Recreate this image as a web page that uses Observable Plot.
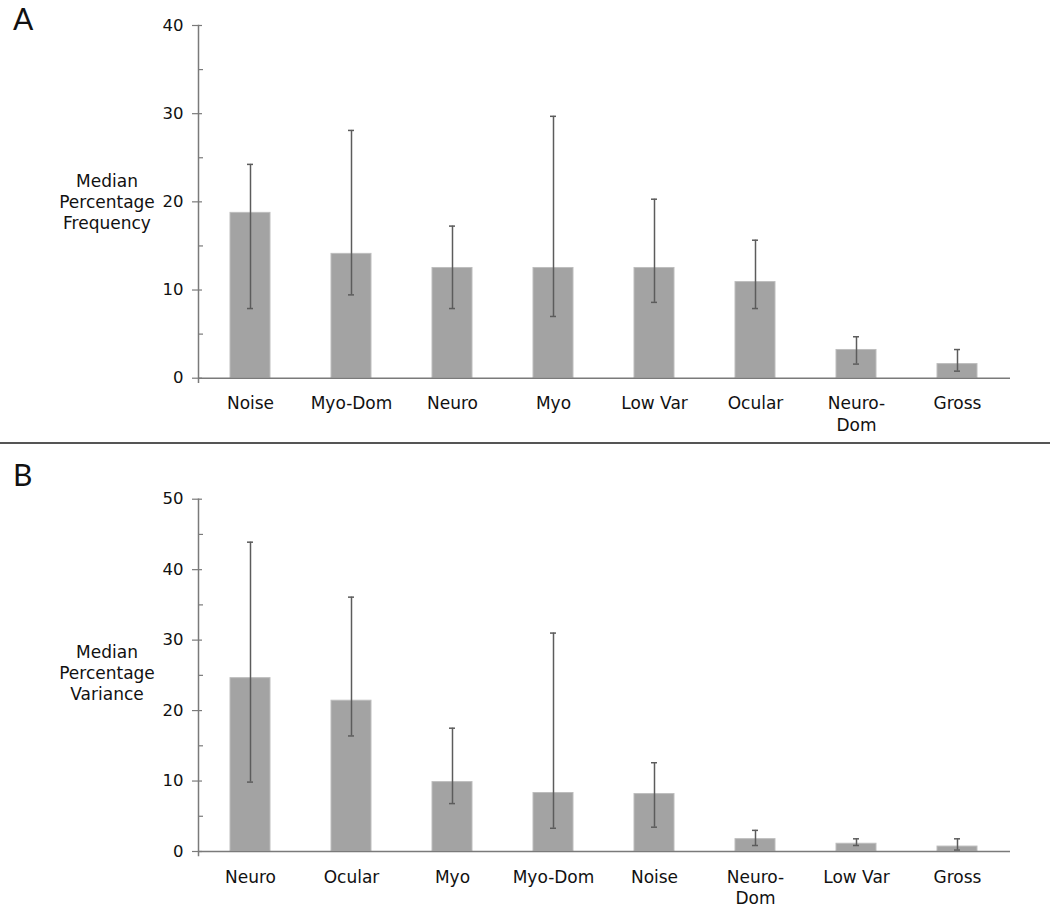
<!DOCTYPE html>
<html>
<head>
<meta charset="utf-8">
<script src="https://cdn.jsdelivr.net/npm/d3@7"></script>
<script src="https://cdn.jsdelivr.net/npm/@observablehq/plot@0.6"></script>
<style>
  html, body { margin: 0; padding: 0; background: #fff; }
  #root { position: relative; width: 1050px; font-family: "DejaVu Sans", Verdana, sans-serif; }
  .panel { position: relative; width: 1050px; }
  .letter { position: absolute; left: 13px; font-family: Lato, "Open Sans", sans-serif; font-size: 30px; line-height: 30px; color: #111; }
  .ylab { position: absolute; left: 42px; width: 130px; text-align: center; font-size: 17px; line-height: 21px; color: #111; }
  .divider { width: 1050px; height: 2px; background: #555; }
  svg { display: block; }
</style>
</head>
<body>
<div id="root">
  <div class="panel" id="panelA">
    <div class="letter" style="top:3px">A</div>
    <div class="ylab" style="top:171px">Median<br>Percentage<br>Frequency</div>
  </div>
  <div class="divider"></div>
  <div class="panel" id="panelB">
    <div class="letter" style="top:15px">B</div>
    <div class="ylab" style="top:198px">Median<br>Percentage<br>Variance</div>
  </div>
</div>
<script>
// Panel A: median percentage frequency
const catsA = ["Noise", "Myo-Dom", "Neuro", "Myo", "Low Var", "Ocular", "Neuro-Dom", "Gross"];
const medA  = [18.75, 14.1, 12.5, 12.5, 12.5, 10.9, 3.2, 1.6];
const lowA  = [7.9, 9.45, 7.9, 7.0, 8.6, 7.9, 1.6, 0.8];
const highA = [24.25, 28.1, 17.25, 29.7, 20.3, 15.65, 4.7, 3.25];
const majorA = [0, 10, 20, 30, 40];
const minorA = [5, 15, 25, 35];

// Panel B: median percentage variance
const catsB = ["Neuro", "Ocular", "Myo", "Myo-Dom", "Noise", "Neuro-Dom", "Low Var", "Gross"];
const medB  = [24.6, 21.4, 9.85, 8.3, 8.15, 1.75, 1.1, 0.7];
const lowB  = [9.85, 16.4, 6.8, 3.3, 3.45, 0.85, 0.85, 0.2];
const highB = [43.9, 36.1, 17.5, 31.0, 12.6, 3.0, 1.8, 1.8];
const majorB = [0, 10, 20, 30, 40, 50];
const minorB = [5, 15, 25, 35, 45];

const tickLabel = d => d === "Neuro-Dom" ? "Neuro-\nDom" : d;

function panel(cats, med, low, high, yMax, majors, minors, height, marginTop, marginBottom) {
  const width = 1050, marginLeft = 198, marginRight = 40;
  const frameW = width - marginLeft - marginRight;
  const data = cats.map((c, i) => ({cat: c, med: med[i], low: low[i], high: high[i]}));
  const axisColor = "#7a7a7a";
  const errColor = "#5c5c5c";
  return Plot.plot({
    width, height, marginLeft, marginRight, marginTop, marginBottom,
    style: {fontFamily: "'DejaVu Sans', Verdana, sans-serif", fontSize: "16px", color: "#111", background: "white"},
    x: {domain: cats, paddingInner: 0.6, paddingOuter: 0.3, axis: null},
    y: {domain: [0, yMax], axis: null},
    marks: [
      Plot.barY(data, {x: "cat", y: "med", fill: "#a3a3a3", stroke: "#bdbdbd", strokeWidth: 1}),
      Plot.ruleX(data, {x: "cat", y1: "low", y2: "high", stroke: errColor, strokeWidth: 1.5}),
      Plot.tickY(data, {x: "cat", y: "high", stroke: errColor, strokeWidth: 1.5, insetLeft: 17, insetRight: 17}),
      Plot.tickY(data, {x: "cat", y: "low", stroke: errColor, strokeWidth: 1.5, insetLeft: 17, insetRight: 17}),
      Plot.ruleY([0], {stroke: axisColor, strokeWidth: 1.5}),
      Plot.frame({anchor: "left", stroke: axisColor, strokeWidth: 1.5, insetBottom: -4}),
      Plot.tickY(majors, {stroke: axisColor, strokeWidth: 1.2, insetLeft: -6, insetRight: frameW - 4}),
      Plot.tickY(minors, {stroke: axisColor, strokeWidth: 1.2, insetLeft: 0, insetRight: frameW - 5}),
      Plot.axisY({ticks: majors, tickSize: 0, tickPadding: 15, fontSize: 16.5, fill: "#111", label: null}),
      Plot.axisX({tickSize: 0, tickPadding: 16, fontSize: 17, lineHeight: 1.25, fill: "#111", tickFormat: tickLabel, label: null})
    ]
  });
}

document.getElementById("panelA").appendChild(
  panel(catsA, medA, lowA, highA, 40, majorA, minorA, 442, 25, 64.3)
);
document.getElementById("panelB").appendChild(
  panel(catsB, medB, lowB, highB, 50, majorB, minorB, 464, 54.7, 57)
);
</script>
</body>
</html>
